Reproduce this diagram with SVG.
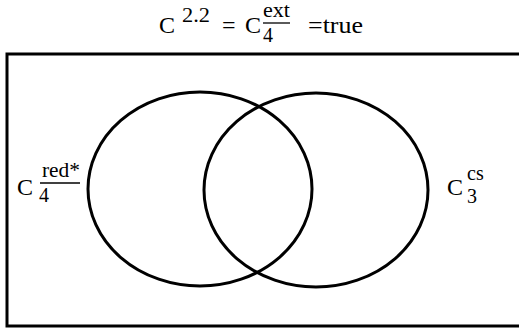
<svg xmlns="http://www.w3.org/2000/svg" width="519" height="328" viewBox="0 0 519 328">
<style>
text{font-family:'Liberation Serif','Times New Roman',Times,Tinos,'Noto Serif','DejaVu Serif','FreeSerif',serif;fill:#000}
.big{font-size:24px}
.sm{font-size:20px}
.shape{fill:none;stroke:#000;stroke-width:3}
.bar{stroke:#000;stroke-width:1.3}
</style>
<rect width="519" height="328" fill="#fff"/>
<g id="title">
<text class="big" x="159" y="33" font-family="Liberation Serif">C</text>
<text class="sm" x="182" y="22" textLength="28" lengthAdjust="spacingAndGlyphs">2.2</text>
<text class="big" x="222" y="33">=</text>
<text class="big" x="245" y="33">C</text>
<text class="sm" x="263" y="17" textLength="27" lengthAdjust="spacingAndGlyphs">ext</text>
<line class="bar" x1="263" y1="23" x2="290" y2="23"/>
<text class="sm" x="263" y="42">4</text>
<text class="big" x="308" y="33" textLength="55" lengthAdjust="spacingAndGlyphs">=true</text>
</g>
<g id="universe">
<rect class="shape" x="7" y="54" width="520" height="272"/>
</g>
<g id="setA">
<ellipse class="shape" cx="200" cy="189" rx="112" ry="97"/>
<text class="big" x="17" y="195">C</text>
<text class="sm" x="42" y="177" textLength="38" lengthAdjust="spacingAndGlyphs">red*</text>
<line class="bar" x1="40" y1="183" x2="80" y2="183"/>
<text class="sm" x="39" y="202">4</text>
</g>
<g id="setB">
<ellipse class="shape" cx="316" cy="190" rx="112" ry="97"/>
<text class="big" x="447" y="195">C</text>
<text class="sm" x="467" y="180">cs</text>
<text class="sm" x="467" y="203">3</text>
</g>
<g id="connectors"></g>
</svg>
